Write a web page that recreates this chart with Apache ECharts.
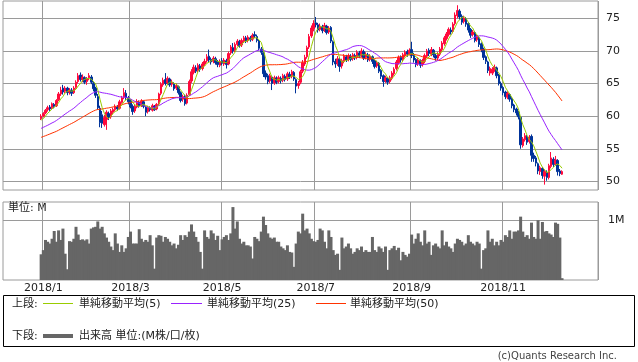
<!DOCTYPE html>
<html><head><meta charset="utf-8">
<script src="https://cdn.jsdelivr.net/npm/echarts@6/dist/echarts.min.js"></script>
<style>html,body{margin:0;padding:0;background:#fff}#c{width:638px;height:362px}</style>
</head><body><div id="c"></div><script>
// ---- data ----
const tickLabels = ['2018/1','2018/3','2018/5','2018/7','2018/9','2018/11'];
const priceTicks = [50,55,60,65,70,75];
const volumeTicks = [1];
const holidays = ['2017-12-25','2018-01-01','2018-01-15','2018-02-19','2018-03-30','2018-05-28','2018-07-04','2018-09-03','2018-11-22','2018-12-05','2018-12-25','2019-01-01'];
const firstDataDate = '2017-12-29';
// closes before the visible range (needed for the moving averages)
const priorCloses = [54.2,54.6,54.9,54.5,54.8,55.1,55.4,55.0,54.7,55.2,55.6,55.3,55.0,55.4,55.8,55.5,55.9,56.2,55.8,55.5,55.9,56.3,56.0,55.7,56.1,
 56.5,56.9,57.3,56.8,57.2,57.6,57.1,57.5,57.9,57.4,57.8,58.2,57.9,58.3,58.6,58.2,58.5,58.9,58.6,59.0,59.3,58.9,59.2,59.6];
// [open, close, low, high]
const ohlc = [
[59.6,60.0,59.4,60.3],[60.0,60.4,59.8,60.6],[60.5,60.9,60.3,61.1],[61.0,61.3,60.7,61.6],[61.4,61.1,60.8,61.7],
[61.3,61.9,61.1,62.1],[61.8,61.5,61.2,62.0],[61.6,62.4,61.4,62.6],[62.5,63.4,62.3,63.7],[63.4,64.0,63.1,64.5],
[64.3,63.7,63.3,64.8],[63.8,64.3,63.5,64.6],[64.3,63.6,63.2,64.5],[63.7,64.0,63.3,64.3],[64.0,63.5,63.1,64.3],
[63.6,64.3,63.4,64.6],[64.4,65.2,64.2,65.5],[65.3,66.2,65.0,66.6],[66.3,65.6,65.3,66.7],[65.6,66.0,65.2,66.4],
[65.9,65.2,64.9,66.1],[65.3,65.8,64.8,66.0],[65.9,66.2,65.5,66.6],[66.0,65.2,64.9,66.3],[65.0,64.2,63.8,65.3],
[64.3,63.2,62.8,64.5],[63.0,61.3,61.0,63.4],[61.2,59.0,58.3,61.6],[60.2,58.9,58.2,60.8],[58.7,59.8,58.4,60.2],
[59.5,60.6,57.9,60.9],[60.4,59.8,59.4,60.7],[59.9,60.8,59.6,61.1],[60.6,61.0,60.3,61.3],[61.0,61.5,60.7,61.8],
[61.4,61.1,60.8,61.7],[61.2,62.2,61.0,62.5],[62.1,62.8,61.9,63.1],[62.9,63.6,62.6,64.3],[63.5,62.8,62.5,64.0],
[62.8,62.2,61.8,63.1],[62.3,61.4,61.2,62.6],[61.5,60.7,60.2,61.8],[60.8,61.5,60.5,61.8],[61.4,62.2,61.2,62.6],
[62.1,61.6,61.3,62.4],[61.6,62.3,61.4,62.6],[62.2,61.5,61.2,62.4],[61.4,60.6,60.0,61.6],[60.7,61.3,60.4,61.6],
[61.2,61.0,60.7,61.5],[60.9,61.6,60.7,61.9],[61.5,61.0,60.8,61.7],[61.1,61.8,60.9,62.0],[61.9,63.4,61.7,63.6],
[63.5,64.9,63.2,65.2],[64.8,65.5,64.5,65.9],[65.6,65.0,64.7,66.6],[65.1,65.8,64.8,66.1],[65.7,64.8,64.5,65.9],
[64.9,65.2,64.5,65.6],[65.0,64.2,63.9,65.2],[64.3,64.7,64.0,65.0],[64.5,63.6,63.3,64.7],[63.6,62.4,62.1,63.8],
[62.6,63.0,62.2,63.3],[63.1,61.9,61.6,63.3],[62.0,63.2,61.8,63.5],[63.3,65.3,63.1,65.6],[65.4,66.8,65.1,67.2],
[66.7,67.5,66.4,67.9],[67.4,66.9,66.6,67.8],[67.0,67.8,66.7,68.1],[67.7,67.2,66.8,68.0],[67.3,68.0,67.0,68.3],
[68.0,68.4,67.7,68.8],[68.5,69.1,68.2,69.5],[69.2,68.6,68.3,70.2],[68.7,68.3,67.9,69.0],[68.4,68.9,68.1,69.2],
[68.8,68.2,67.9,69.1],[68.3,67.9,67.5,68.6],[67.8,68.4,67.5,68.7],[68.5,68.1,67.8,68.9],[68.0,68.6,67.7,68.9],
[68.5,67.9,67.3,68.8],[68.0,69.6,67.8,69.9],[69.7,70.6,69.4,70.9],[70.5,70.0,69.6,71.2],[70.1,71.0,69.8,71.3],
[71.0,71.5,70.7,71.8],[71.4,70.8,70.5,71.7],[70.9,71.6,70.6,71.9],[71.5,72.0,71.2,72.3],[72.0,71.5,71.2,72.3],
[71.6,72.1,71.3,72.4],[72.0,71.7,71.4,72.3],[71.8,72.4,71.5,72.7],[72.5,72.3,72.0,73.0],[72.2,71.6,71.3,72.5],
[71.5,70.4,70.1,71.7],[70.3,69.8,69.4,70.6],[69.7,66.5,66.0,69.9],[66.6,66.0,65.6,67.0],[66.2,65.3,64.9,66.5],
[65.4,66.2,65.1,66.5],[66.0,65.0,64.0,66.2],[65.1,65.9,64.8,66.2],[65.8,65.2,64.9,66.1],[65.3,65.9,65.0,66.2],
[65.8,65.4,65.0,66.1],[65.5,66.2,65.2,66.5],[66.1,65.6,65.3,66.4],[65.7,66.5,65.4,66.8],[66.4,66.0,65.7,66.8],
[66.1,66.8,65.8,67.1],[66.7,65.7,65.4,66.9],[65.6,64.6,63.5,65.8],[64.7,65.0,64.2,65.4],[65.2,66.8,64.9,67.1],
[66.9,68.2,66.6,68.6],[68.0,69.0,67.7,69.4],[69.1,70.5,68.8,70.8],[70.6,72.2,70.3,72.6],[72.3,73.5,72.0,73.9],
[73.4,74.2,73.0,74.7],[74.3,74.0,73.6,75.2],[74.0,73.2,72.8,74.3],[73.3,73.8,73.0,74.2],[73.7,73.1,72.7,74.0],
[73.2,73.9,72.9,74.3],[73.8,72.8,72.5,74.0],[72.9,73.5,72.6,73.8],[73.6,71.5,71.2,73.8],[71.4,68.3,67.8,71.6],
[68.4,68.0,67.4,68.8],[68.1,68.8,67.7,69.2],[68.7,67.6,66.8,69.0],[67.7,68.5,67.3,68.8],[68.4,69.2,68.1,69.5],
[69.1,68.6,68.3,69.4],[68.7,69.3,68.4,69.6],[69.2,68.7,68.4,69.5],[68.8,69.4,68.5,69.7],[69.3,68.9,68.6,69.6],
[69.0,69.8,68.7,70.1],[69.7,69.2,68.9,70.0],[69.3,70.0,69.0,70.4],[69.9,68.9,68.6,70.2],[69.0,69.5,68.7,69.8],
[69.4,68.6,68.3,69.7],[68.7,69.2,68.4,69.5],[69.1,68.4,68.0,69.3],[68.5,67.6,67.3,68.7],[67.7,68.2,67.4,68.5],
[68.1,66.9,66.6,68.3],[67.0,66.1,65.7,67.2],[66.2,65.3,64.5,66.4],[65.4,65.9,65.1,66.2],[65.8,65.2,64.8,66.0],
[65.3,65.9,65.0,66.2],[65.8,66.6,65.5,66.9],[66.5,67.2,66.2,67.5],[67.3,68.3,67.0,68.6],[68.2,69.0,67.9,69.3],
[69.0,68.6,68.2,69.3],[68.7,69.4,68.4,69.7],[69.3,69.8,69.0,70.1],[69.9,69.5,69.1,70.2],[69.6,70.1,69.3,70.4],
[70.2,69.3,68.9,71.4],[69.4,68.6,68.2,69.7],[68.7,67.9,67.5,68.9],[68.0,68.6,67.7,68.9],[68.5,67.8,67.4,68.7],
[67.9,68.5,67.6,68.8],[68.4,69.3,68.1,69.6],[69.2,70.0,68.9,70.3],[70.1,69.6,69.2,70.4],[69.5,70.2,69.2,70.6],
[70.1,69.4,69.0,70.3],[69.3,68.9,68.5,69.6],[68.9,69.5,68.6,69.8],[69.5,70.3,69.2,70.6],[70.2,71.2,69.9,71.5],
[71.1,72.0,70.8,72.3],[71.9,72.6,71.6,72.9],[72.5,73.3,72.2,73.6],[73.2,72.9,72.5,73.6],[73.0,74.1,72.7,74.4],
[74.2,75.5,73.9,75.9],[75.4,76.2,75.0,77.0],[76.1,75.2,74.8,76.4],[75.3,74.4,74.0,75.6],[74.5,75.0,74.2,75.4],
[74.9,74.1,73.7,75.2],[74.2,73.2,72.8,74.4],[73.3,72.4,72.0,73.5],[72.5,72.9,72.2,73.2],[72.8,71.6,71.3,73.0],
[71.7,72.2,71.4,72.5],[72.0,71.0,70.6,72.2],[71.1,70.2,69.8,71.3],[70.3,69.0,68.6,70.5],[69.1,68.4,68.0,69.3],
[68.3,67.0,66.6,68.5],[66.6,67.3,66.2,67.6],[66.6,67.2,66.3,67.5],[67.1,67.5,66.8,67.9],[67.4,66.2,65.8,67.6],
[66.3,65.0,64.7,66.5],[65.0,64.3,63.9,65.3],[64.4,63.6,63.2,64.6],[63.7,63.0,62.6,63.9],[62.9,63.5,62.6,63.8],
[63.3,62.6,62.2,63.5],[62.7,61.6,61.2,62.9],[61.7,61.0,60.6,61.9],[61.1,60.5,60.1,61.3],[60.6,59.9,59.5,60.8],
[59.8,55.6,55.0,60.0],[55.5,56.5,55.2,56.8],[56.4,57.0,56.1,57.4],[56.9,56.0,55.6,57.1],[56.1,56.8,55.8,57.1],
[56.9,54.0,53.0,57.2],[54.0,53.5,53.0,54.4],[53.6,52.8,52.3,53.9],[52.7,51.6,51.1,52.9],[51.5,52.1,51.0,52.4],
[52.0,50.9,50.4,52.2],[50.8,51.5,49.5,51.8],[51.4,50.6,50.1,51.7],[50.6,52.4,50.3,52.7],[52.3,53.6,52.0,54.5],
[53.4,52.6,52.2,53.7],[52.7,53.3,52.4,53.9],[53.2,51.5,50.9,53.4],[51.6,51.2,50.8,51.9],[51.1,51.5,51.0,51.7]
];
// volume, millions
const volume = [
0.43,0.50,0.67,0.64,0.61,0.69,0.82,0.64,0.83,0.67,0.86,0.44,0.18,0.65,0.64,0.69,0.89,0.76,0.67,0.68,
0.66,0.68,0.61,0.86,0.88,0.89,0.98,0.86,0.89,0.78,0.71,0.64,0.56,0.50,0.78,0.61,0.47,0.58,0.47,0.53,
0.72,0.81,0.61,0.61,0.61,0.85,0.69,0.64,0.67,0.64,0.75,0.58,0.19,0.71,0.75,0.74,0.64,0.72,0.69,0.64,
0.58,0.61,0.53,0.59,0.75,0.67,0.75,0.72,0.81,0.93,0.81,0.72,0.64,0.47,0.19,0.83,0.72,0.69,0.83,0.78,
0.67,0.74,0.50,0.68,0.72,0.75,0.67,0.78,1.22,0.86,0.98,0.69,0.61,0.64,0.58,0.58,0.56,0.36,0.72,0.69,
0.65,0.81,1.06,0.92,0.78,0.71,0.69,0.71,0.64,0.64,0.56,0.53,0.50,0.58,0.47,0.46,0.22,0.61,0.81,0.78,
1.11,0.83,0.86,0.78,0.69,0.65,0.64,0.67,0.86,0.83,0.64,0.53,0.83,0.72,0.50,0.42,0.44,0.17,0.71,0.53,
0.56,0.61,0.53,0.44,0.47,0.53,0.50,0.56,0.47,0.50,0.47,0.47,0.72,0.50,0.47,0.56,0.53,0.47,0.56,0.17,
0.50,0.53,0.57,0.50,0.54,0.33,0.47,0.42,0.39,0.44,0.76,0.61,0.69,0.78,0.64,0.58,0.83,0.61,0.64,0.42,
0.58,0.61,0.56,0.53,0.83,0.58,0.64,0.56,0.53,0.47,0.61,0.69,0.67,0.64,0.58,0.61,0.75,0.64,0.61,0.58,
0.64,0.61,0.19,0.50,0.53,0.83,0.64,0.69,0.58,0.64,0.58,0.67,0.64,0.75,0.72,0.83,0.69,0.81,0.81,0.83,
1.06,0.81,0.72,0.75,0.69,0.96,0.72,0.69,1.00,0.69,0.97,0.81,0.82,0.78,0.76,0.72,0.96,0.94,0.71,0.03
];

// ---- trading calendar (axis categories) ----
const categories = [];
(function(){
  const d = new Date(Date.UTC(2017,11,5));
  while (categories.length < 273) {
    const wd = d.getUTCDay(), s = d.toISOString().slice(0,10);
    if (wd !== 0 && wd !== 6 && holidays.indexOf(s) < 0) categories.push(s);
    d.setUTCDate(d.getUTCDate()+1);
  }
})();
const lead = categories.indexOf(firstDataDate);
const labelAt = {};
categories.forEach((c,i)=>{
  if (i===0) return;
  if (c.slice(0,7) !== categories[i-1].slice(0,7)) {
    const lbl = c.slice(0,4) + '/' + (+c.slice(5,7));
    if (tickLabels.indexOf(lbl) >= 0) labelAt[i] = lbl;
  }
});
const pad = arr => { const out = new Array(categories.length).fill('-'); arr.forEach((v,i)=>{ out[lead+i]=v; }); return out; };
const closes = ohlc.map(r=>r[1]);
const allCloses = priorCloses.concat(closes);
const sma = n => closes.map((_,i)=>{ const e = priorCloses.length + i; let s=0; for (let k=e-n+1;k<=e;k++) s+=allCloses[k]; return +(s/n).toFixed(3); });

const FONT = 'DejaVu Sans, "Noto Sans CJK JP", sans-serif';
const chart = echarts.init(document.getElementById('c'), null, {renderer:'canvas'});
const showAt = (idx)=> labelAt[idx] !== undefined;
const xBase = {
  type:'category', data:categories, boundaryGap:true,
  axisLine:{show:false}, axisTick:{show:false},
  splitLine:{show:true, interval:(i)=>showAt(i), lineStyle:{color:'#9a9a9a', width:1}}
};
chart.setOption({
  animation:false,
  backgroundColor:'#ffffff',
  grid:[
    {left:3, top:1, width:595, height:189, show:true, borderColor:'#9a9a9a', borderWidth:1, containLabel:false},
    {left:3, top:202, width:595, height:78, show:true, borderColor:'#9a9a9a', borderWidth:1, containLabel:false}
  ],
  xAxis:[
    Object.assign({}, xBase, {gridIndex:0, axisLabel:{show:false}}),
    Object.assign({}, xBase, {gridIndex:1, axisLabel:{show:true, interval:(i)=>showAt(i), formatter:(v,i)=>labelAt[i]||'', color:'#222', fontSize:11, fontFamily:FONT, margin:3}})
  ],
  yAxis:[
    {gridIndex:0, type:'value', position:'right', min:48.68, max:77.65,
     axisLine:{show:false}, axisTick:{show:false, customValues:priceTicks},
     axisLabel:{customValues:priceTicks, color:'#222', fontSize:11, fontFamily:FONT, margin:8},
     splitLine:{show:true, lineStyle:{color:'#9a9a9a', width:1}}},
    {gridIndex:1, type:'value', position:'right', min:0, max:1.305,
     axisLine:{show:false}, axisTick:{show:false, customValues:volumeTicks},
     axisLabel:{customValues:volumeTicks, formatter:v=>v+'M', color:'#222', fontSize:11, fontFamily:FONT, margin:10},
     splitLine:{show:true, lineStyle:{color:'#9a9a9a', width:1}}}
  ],
  series:[
    {type:'candlestick', xAxisIndex:0, yAxisIndex:0, data:pad(ohlc), barWidth:2,
     itemStyle:{color:'#ff0a3c', color0:'#00339a', borderColor:'#ff0a3c', borderColor0:'#00339a', borderWidth:1}},
    {type:'line', name:'MA50', xAxisIndex:0, yAxisIndex:0, data:pad(sma(50)), symbol:'none', lineStyle:{color:'#ff3300', width:1}},
    {type:'line', name:'MA25', xAxisIndex:0, yAxisIndex:0, data:pad(sma(25)), symbol:'none', lineStyle:{color:'#9922ff', width:1}},
    {type:'line', name:'MA5', xAxisIndex:0, yAxisIndex:0, data:pad(sma(5)), symbol:'none', lineStyle:{color:'#99cc00', width:1}},
    {type:'bar', xAxisIndex:1, yAxisIndex:1, data:pad(volume), barWidth:3, itemStyle:{color:'#666666'}}
  ],
  graphic:[
    {type:'text', left:8, top:203, style:{text:'単位: M', fontSize:11, fontFamily:FONT, fill:'#222'}},
    {type:'rect', shape:{x:3.5, y:295.5, width:631, height:51}, style:{fill:'none', stroke:'#000', lineWidth:1}},
    {type:'text', x:12, y:304, style:{text:'上段:', fontSize:11, fontFamily:FONT, fill:'#222', verticalAlign:'middle'}},
    {type:'rect', shape:{x:43, y:303, width:30, height:1}, style:{fill:'#99cc00'}},
    {type:'text', x:79, y:304, style:{text:'単純移動平均(5)', fontSize:11, fontFamily:FONT, fill:'#222', verticalAlign:'middle'}},
    {type:'rect', shape:{x:171, y:303, width:31, height:1}, style:{fill:'#9922ff'}},
    {type:'text', x:207, y:304, style:{text:'単純移動平均(25)', fontSize:11, fontFamily:FONT, fill:'#222', verticalAlign:'middle'}},
    {type:'rect', shape:{x:316, y:303, width:30, height:1}, style:{fill:'#ff3300'}},
    {type:'text', x:350, y:304, style:{text:'単純移動平均(50)', fontSize:11, fontFamily:FONT, fill:'#222', verticalAlign:'middle'}},
    {type:'text', x:12, y:336, style:{text:'下段:', fontSize:11, fontFamily:FONT, fill:'#222', verticalAlign:'middle'}},
    {type:'rect', shape:{x:43, y:334, width:30, height:4}, style:{fill:'#666666'}},
    {type:'text', x:79, y:336, style:{text:'出来高 単位:(M株/口/枚)', fontSize:11, fontFamily:FONT, fill:'#222', verticalAlign:'middle'}},
    {type:'text', x:617, y:356, style:{text:'(c)Quants Research Inc.', fontSize:10, fontFamily:FONT, fill:'#444', align:'right', verticalAlign:'middle'}}
  ]
});
</script></body></html>
